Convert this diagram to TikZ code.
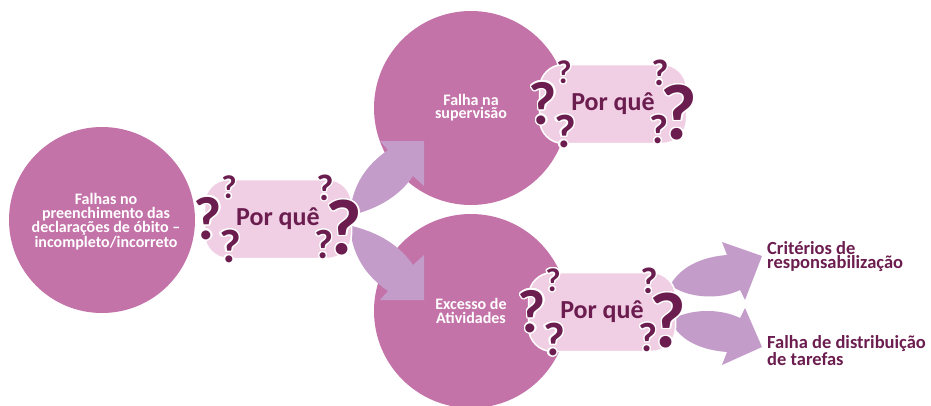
\documentclass[tikz,border=0pt]{standalone}
\usepackage{fontspec}
\setmainfont{Carlito}
\usepackage[copies]{contour}
\contourlength{1.3pt}
\contournumber{24}
\definecolor{circc}{HTML}{C473A9}
\definecolor{arrc}{HTML}{C39CCA}
\definecolor{boxc}{HTML}{F0CFE4}
\definecolor{darkc}{HTML}{6B1D4F}
\newcommand\qm[4]{% name, base node, shift, size
  \node[qmark, font=\bfseries\fontsize{#4}{#4}\selectfont] (#1) at ([shift={#3}]#2.center) {\contour{white}{?}};}
\newcommand\qset[1]{%
  \qm{#1-l}{#1}{(-70,0)}{61}
  \qm{#1-tl}{#1}{(-49,-31)}{33}
  \qm{#1-bl}{#1}{(-48,28)}{47}
  \qm{#1-r}{#1}{(66,9)}{79}
  \qm{#1-tr}{#1}{(47,-31)}{37}
  \qm{#1-br}{#1}{(46,26)}{41}}
\begin{document}
\begin{tikzpicture}[x=1pt,y=-1pt,
  bigcirc/.style={circle, fill=circc, draw=none, inner sep=0pt, text=white, align=center,
    font=\bfseries\fontsize{16}{13.2}\selectfont},
  qbox/.style={rectangle, rounded corners=24pt, fill=boxc, draw=white, line width=1.5pt,
    minimum width=147pt, minimum height=79pt, inner sep=0pt, text=darkc,
    font=\bfseries\fontsize{26}{26}\selectfont},
  qmark/.style={inner sep=0pt, text=darkc},
  arrowshape/.style={fill=arrc, draw=none},
  lbl/.style={text=darkc, align=left, inner sep=0pt, anchor=west,
    font=\bfseries\fontsize{18.5}{14}\selectfont}]
\useasboundingbox (0,0) rectangle (931,405);
\clip (0,0) rectangle (931,405);
% circles
\node[bigcirc, minimum size=186pt] (c1) at (102,220) {};
\node[text=white, align=center, inner sep=0pt, font=\bfseries\fontsize{16}{13.2}\selectfont] (c1t) at (106,222) {Falhas no\\preenchimento das\\declarações de óbito –\\incompleto/incorreto};
\node[bigcirc, minimum size=194pt] (c2) at (471,108) {Falha na\\supervisão};
\node[bigcirc, minimum size=194pt] (c3) at (471,311) {Excesso de\\Atividades};
% block arrows
\fill[arrowshape] (350,212) .. controls (353,185) and (366,165) .. (388,150) -- (380,141) -- (424,141) -- (424,186) -- (413,176) .. controls (400,195) and (380,208) .. (352,215) -- cycle;
\fill[arrowshape] (350,229) .. controls (353,256) and (366,276) .. (388,291) -- (380,300) -- (424,300) -- (424,255) -- (413,265) .. controls (400,246) and (380,233) .. (352,226) -- cycle;
\fill[arrowshape] (671,284) .. controls (680,268) and (700,257) .. (727,255) -- (722,242) -- (762,256) -- (745,300) -- (740,290) .. controls (720,300) and (690,298) .. (673,287) -- cycle;
\fill[arrowshape] (673,319) .. controls (690,309) and (720,308) .. (740,318) -- (745,308) -- (762,347) -- (722,365) -- (727,352) .. controls (700,350) and (680,340) .. (671,322) -- cycle;
% boxes
\node[qbox] (b1) at (278,219) {Por quê};
\node[qbox] (b2) at (613,104) {Por quê};
\node[qbox] (b3) at (602,312) {Por quê};
\qset{b1}
\qset{b2}
\qset{b3}
% labels
\node[lbl] (t1) at (767,257) {Critérios de\\responsabilização};
\node[lbl] (t2) at (767,351) {Falha de distribuição\\de tarefas};
\end{tikzpicture}
\end{document}
